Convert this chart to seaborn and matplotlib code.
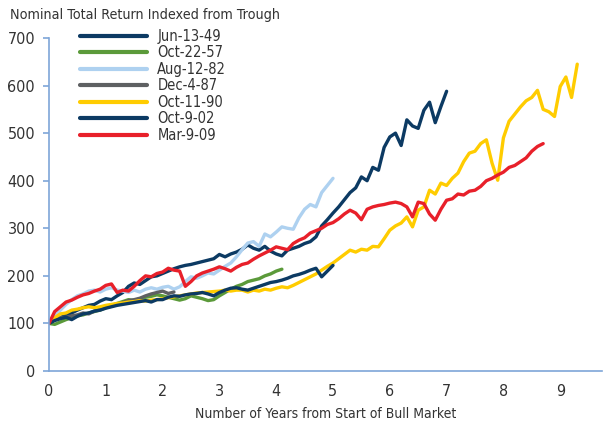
import numpy as np
import pandas as pd
import seaborn as sns
import matplotlib.pyplot as plt

# ---- data (index level, read at 0.1-year steps) ----
series_names = ["Jun-13-49", "Oct-22-57", "Aug-12-82", "Dec-4-87",
                "Oct-11-90", "Oct-9-02", "Mar-9-09"]
step = 0.1

jun_13_49 = [100, 108, 112, 118, 122, 128, 133, 138, 140, 147,
             152, 150, 158, 165, 178, 185, 182, 190, 198, 200,
             205, 210, 215, 219, 222, 224, 227, 230, 233, 236,
             245, 240, 246, 250, 256, 265, 258, 254, 262, 252,
             246, 242, 254, 258, 262, 268, 272, 282, 305, 318,
             332, 345, 360, 375, 385, 408, 400, 428, 422, 470,
             492, 500, 474, 528, 515, 510, 548, 565, 522, 556,
             588]
oct_22_57 = [100, 98, 103, 108, 112, 116, 118, 122, 125, 128,
             133, 138, 142, 146, 150, 148, 152, 155, 157, 160,
             158, 155, 152, 149, 152, 158, 155, 152, 148, 150,
             158, 165, 172, 178, 182, 188, 191, 194, 200, 204,
             210, 214]
aug_12_82 = [100, 115, 128, 140, 150, 158, 162, 168, 170, 166,
             172, 175, 170, 168, 165, 170, 166, 172, 175, 172,
             176, 178, 172, 177, 188, 198, 195, 200, 206, 204,
             212, 220, 227, 240, 255, 269, 272, 262, 288, 282,
             292, 303, 300, 298, 322, 340, 350, 345, 375, 390,
             405]
dec_4_87 = [100, 108, 112, 113, 116, 118, 122, 120, 126, 130,
            134, 136, 140, 144, 148, 150, 153, 158, 162, 165,
            168, 163, 166]
oct_11_90 = [100, 112, 120, 122, 128, 130, 133, 135, 133, 135,
             138, 140, 142, 143, 145, 146, 148, 147, 149, 150,
             152, 154, 156, 158, 160, 162, 164, 165, 166, 167,
             168, 170, 168, 170, 170, 166, 170, 168, 172, 170,
             174, 177, 175, 180, 186, 192, 198, 204, 212, 220,
             227, 236, 245, 254, 250, 256, 254, 262, 261, 278,
             296, 305, 311, 324, 303, 338, 345, 380, 372, 395,
             390, 405, 416, 440, 458, 462, 478, 486, 437, 401,
             490, 525, 540, 555, 568, 575, 590, 550, 545, 535,
             598, 618, 575, 645]
oct_9_02 = [100, 106, 110, 113, 108, 115, 120, 122, 126, 128,
            132, 135, 138, 140, 142, 144, 146, 148, 145, 150,
            150, 155, 158, 157, 160, 162, 163, 165, 162, 158,
            165, 170, 174, 175, 172, 170, 174, 178, 182, 186,
            188, 191, 195, 200, 203, 207, 212, 216, 198, 210,
            222]
mar_9_09 = [100, 125, 135, 145, 149, 155, 160, 163, 168, 172,
            180, 183, 165, 170, 168, 178, 190, 200, 198, 205,
            208, 216, 212, 210, 178, 188, 200, 206, 210, 214,
            219, 215, 210, 218, 224, 227, 235, 242, 248, 254,
            261, 258, 255, 268, 275, 280, 290, 295, 300, 308,
            312, 320, 330, 338, 332, 318, 340, 345, 348, 350,
            353, 355, 352, 345, 324, 355, 352, 330, 317, 340,
            359, 362, 372, 370, 378, 380, 388, 400, 405, 412,
            418, 428, 432, 440, 448, 462, 472, 478]

series_values = [jun_13_49, oct_22_57, aug_12_82, dec_4_87,
                 oct_11_90, oct_9_02, mar_9_09]
series_colors = ["#0c3a63", "#5b9a3a", "#aed1f0", "#5e6062",
                 "#ffcc00", "#0c3a63", "#e8202a"]

y_ticks = [0, 100, 200, 300, 400, 500, 600, 700]
x_ticks = [0, 1, 2, 3, 4, 5, 6, 7, 8, 9]

title_text = "Nominal Total Return Indexed from Trough"
x_label = "Number of Years from Start of Bull Market"

# ---- long-form table ----
rows = []
for name, vals in zip(series_names, series_values):
    for i, v in enumerate(vals):
        rows.append((name, i * step, v))
df = pd.DataFrame(rows, columns=["series", "years", "index"])

sns.set_theme(style="white")
plt.rcParams['font.family'] = ['DejaVu Sans']
plt.rcParams['font.stretch'] = 'condensed'

W, H = 604, 421
fig = plt.figure(figsize=(W / 100, H / 100), dpi=100)
ax_left, ax_right, ax_bottom, ax_top = 49, 602, 371, 38
ax = fig.add_axes([ax_left / W, 1 - ax_bottom / H,
                   (ax_right - ax_left) / W, (ax_bottom - ax_top) / H])

palette = dict(zip(series_names, series_colors))
sns.lineplot(data=df, x="years", y="index", hue="series",
             hue_order=series_names, palette=palette, sort=False,
             estimator=None, linewidth=2.4, legend=False, ax=ax)

txt_color = "#333333"
spine_color = "#7ea6d8"
ax.set_xlim(0, (ax_right - ax_left) / 56.8)
ax.set_ylim(0, 700)
ax.set_xticks(x_ticks)
ax.set_yticks(y_ticks)
for s in ["top", "right"]:
    ax.spines[s].set_visible(False)
for s in ["left", "bottom"]:
    ax.spines[s].set_color(spine_color)
    ax.spines[s].set_linewidth(1.2)
ax.tick_params(axis="y", which="major", direction="out", length=4,
               width=1.2, color=spine_color, labelsize=11.5,
               labelcolor=txt_color, pad=6, left=True)
ax.tick_params(axis="x", which="major", length=0, labelsize=11.5,
               labelcolor=txt_color, pad=9)
ax.set_xlabel(x_label, fontsize=10, color=txt_color, labelpad=6)
ax.set_ylabel("")
ax.grid(False)

fig.text(10 / W, 1 - 15 / H, title_text, fontsize=10.3, color=txt_color,
         ha="left", va="center")

handles = ax.lines[:len(series_names)]
leg = ax.legend(handles, series_names, loc="upper left",
                bbox_to_anchor=(80 / W, 1 - 29 / H),
                bbox_transform=fig.transFigure, frameon=False,
                fontsize=10.5, handlelength=4.6, handletextpad=0.7,
                labelspacing=0.1, borderpad=0, borderaxespad=0)
for line in leg.get_lines():
    line.set_linewidth(3)
for t in leg.get_texts():
    t.set_color(txt_color)

fig.savefig("out.png", dpi=100)
